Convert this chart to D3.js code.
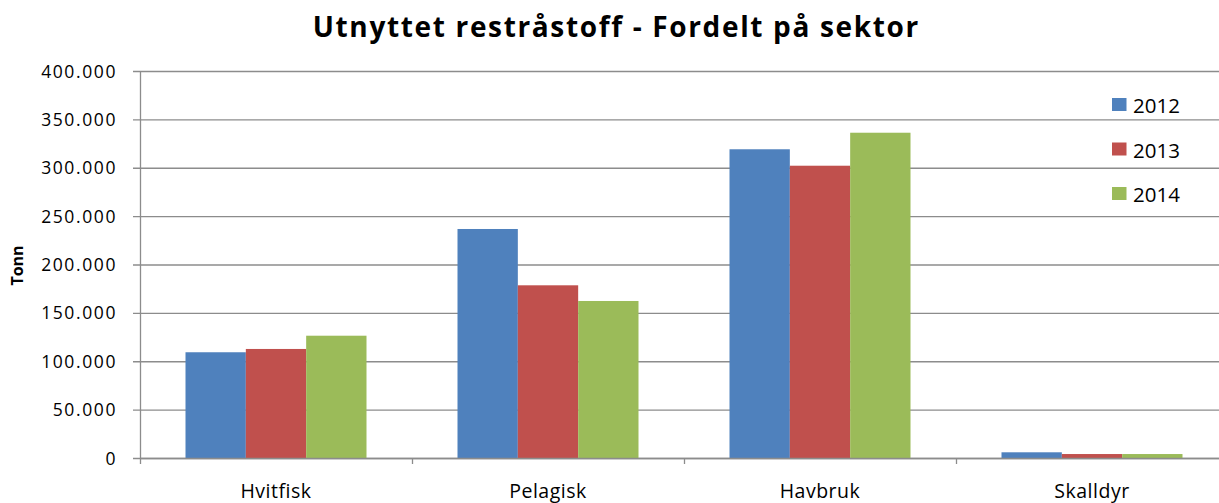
<!DOCTYPE html>
<html><head><meta charset="utf-8">
<script src="https://cdn.jsdelivr.net/npm/d3@7"></script>
<style>body{margin:0;background:#fff;} svg{display:block;}</style>
</head><body>
<svg id="chart" width="1219" height="503"></svg>
<script>
const categories = ["Hvitfisk", "Pelagisk", "Havbruk", "Skalldyr"];
const seriesNames = ["2012", "2013", "2014"];
const values2012 = [109300, 236700, 319100, 5900];
const values2013 = [112700, 178500, 302100, 4100];
const values2014 = [126400, 162300, 336200, 4100];
const colors = ["#4F81BD", "#C0504D", "#9BBB59"];
const yTicks = [0, 50000, 100000, 150000, 200000, 250000, 300000, 350000, 400000];

const seriesValues = [values2012, values2013, values2014];
const font = "'Open Sans', sans-serif";
const svg = d3.select("#chart");

const pLeft = 140, pRight = 1228, pTop = 71, pBottom = 458;
const x = d3.scaleBand().domain(categories).range([pLeft, pRight]).padding(0);
const xInner = d3.scaleBand().domain(seriesNames).range([45.5, 45.5 + 181]).padding(0);
const y = d3.scaleLinear().domain([0, 400000]).range([pBottom, pTop]);
const fmt = v => v === 0 ? "0" : d3.format(",")(v).replace(/,/g, ".");

// gridlines
svg.append("g").selectAll("line").data(yTicks).join("line")
  .attr("x1", pLeft - 7).attr("x2", 1219)
  .attr("y1", d => y(d) + 0.5).attr("y2", d => y(d) + 0.5)
  .attr("stroke", "#8c8c8c").attr("stroke-width", 1.3);

// y tick labels
svg.append("g").selectAll("text").data(yTicks).join("text")
  .attr("x", 117).attr("y", d => y(d) + 6.5)
  .attr("text-anchor", "end").attr("font-family", font).attr("font-size", 17.5)
  .attr("letter-spacing", 1.6)
  .attr("fill", "#000").text(fmt);

// bars
categories.forEach((c, ci) => {
  seriesNames.forEach((s, si) => {
    const v = seriesValues[si][ci];
    svg.append("rect")
      .attr("x", x(c) + xInner(s)).attr("width", xInner.bandwidth())
      .attr("y", y(v)).attr("height", y(0) - y(v))
      .attr("fill", colors[si]);
  });
});

// axes lines
svg.append("line").attr("x1", pLeft + 0.5).attr("x2", pLeft + 0.5)
  .attr("y1", pTop).attr("y2", pBottom + 6).attr("stroke", "#8c8c8c").attr("stroke-width", 1.3);
svg.append("line").attr("x1", pLeft).attr("x2", 1219)
  .attr("y1", pBottom + 0.5).attr("y2", pBottom + 0.5).attr("stroke", "#8c8c8c").attr("stroke-width", 1.3);
svg.append("g").selectAll("line").data(categories.slice(1)).join("line")
  .attr("x1", d => x(d) + 0.5).attr("x2", d => x(d) + 0.5)
  .attr("y1", pBottom).attr("y2", pBottom + 6).attr("stroke", "#8c8c8c").attr("stroke-width", 1.3);

// category labels
svg.append("g").selectAll("text").data(categories).join("text")
  .attr("x", d => x(d) + x.bandwidth() / 2).attr("y", 497.5)
  .attr("text-anchor", "middle").attr("font-family", font).attr("font-size", 19.5)
  .attr("letter-spacing", 0.5)
  .attr("fill", "#000").text(d => d);

// title
svg.append("text").attr("x", 616.3).attr("y", 36.7).attr("text-anchor", "middle")
  .attr("font-family", font).attr("font-weight", "bold").attr("font-size", 28)
  .attr("letter-spacing", 1.65)
  .attr("fill", "#000").text("Utnyttet restråstoff - Fordelt på sektor");

// y axis title
svg.append("text").attr("transform", "translate(23.3,265.5) rotate(-90)")
  .attr("text-anchor", "middle").attr("font-family", font).attr("font-weight", "bold")
  .attr("font-size", 16).attr("fill", "#000").text("Tonn");

// legend
const leg = svg.append("g");
seriesNames.forEach((s, i) => {
  const cy = 104.5 + i * 44.5;
  leg.append("rect").attr("x", 1112).attr("y", cy - 6.5).attr("width", 14.5).attr("height", 13).attr("fill", colors[i]);
  leg.append("text").attr("x", 1133).attr("y", cy + 8.5)
    .attr("font-family", font).attr("font-size", 20.5).attr("fill", "#000").text(s);
});
</script>
</body></html>
